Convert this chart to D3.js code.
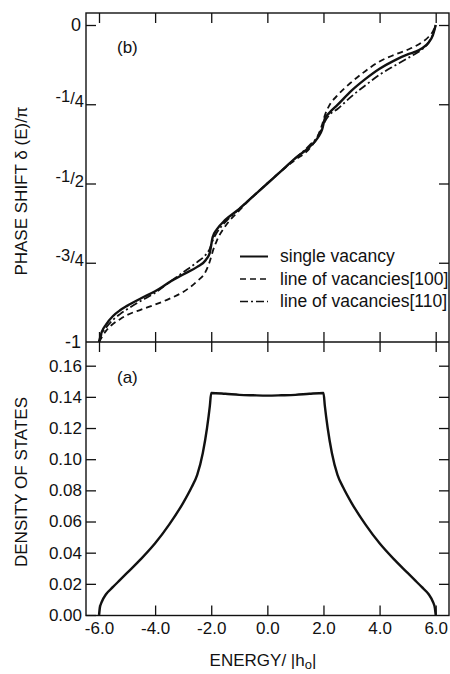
<!DOCTYPE html>
<html>
<head>
<meta charset="utf-8">
<script src="https://cdn.jsdelivr.net/npm/d3@7"></script>
<style>
  body { margin: 0; background: #fff; }
  text { font-family: "Liberation Sans", Arial, sans-serif; fill: #111; }
</style>
</head>
<body>
<div id="chart"></div>
<script>
// energy in units of |h0|
const dosEnergy = [-6, -5.97, -5.9, -5.75, -5.5, -5.25, -5, -4.5, -4, -3.5, -3, -2.7, -2.5, -2.3, -2.15, -2.05, -2,
  -1.5, -1, -0.5, 0, 0.5, 1, 1.5, 2, 2.05, 2.15, 2.3, 2.5, 2.7, 3, 3.5, 4, 4.5, 5, 5.25, 5.5, 5.75, 5.9, 5.97, 6];
const dosValues = [0, 0.0045, 0.0085, 0.0133, 0.018, 0.0225, 0.027, 0.036, 0.046, 0.058, 0.072, 0.082, 0.090, 0.104, 0.12, 0.134, 0.1425,
  0.142, 0.1413, 0.141, 0.1408, 0.141, 0.1413, 0.142, 0.1425, 0.134, 0.12, 0.104, 0.090, 0.082, 0.072, 0.058, 0.046, 0.036, 0.027, 0.0225, 0.018, 0.0133, 0.0085, 0.0045, 0];

const phaseEnergy = [-6, -5.9, -5.75, -5.5, -5.25, -5, -4.5, -4, -3.5, -3, -2.5, -2.2, -2.05, -1.95, -1.8, -1.5, -1, -0.5,
  0, 0.5, 1, 1.5, 1.8, 1.95, 2.05, 2.2, 2.5, 3, 3.5, 4, 4.5, 5, 5.25, 5.5, 5.75, 5.9, 6];
// phase shift / pi
const singleVacancy = [-1, -0.968, -0.945, -0.918, -0.900, -0.886, -0.862, -0.84, -0.812, -0.787, -0.763, -0.742, -0.718, -0.67, -0.645, -0.615, -0.58, -0.54,
  -0.5, -0.46, -0.42, -0.385, -0.355, -0.33, -0.295, -0.278, -0.252, -0.207, -0.17, -0.138, -0.113, -0.093, -0.085, -0.074, -0.055, -0.032, 0];
const line100 = [-1, -0.985, -0.965, -0.943, -0.928, -0.915, -0.898, -0.882, -0.864, -0.842, -0.808, -0.778, -0.745, -0.715, -0.68, -0.635, -0.585, -0.54,
  -0.5, -0.46, -0.425, -0.39, -0.35, -0.315, -0.285, -0.255, -0.222, -0.18, -0.145, -0.115, -0.095, -0.078, -0.068, -0.055, -0.037, -0.02, 0];
const line110 = [-1, -0.975, -0.955, -0.93, -0.912, -0.897, -0.87, -0.845, -0.812, -0.78, -0.748, -0.725, -0.705, -0.68, -0.655, -0.622, -0.58, -0.54,
  -0.5, -0.46, -0.42, -0.38, -0.35, -0.325, -0.305, -0.285, -0.265, -0.225, -0.19, -0.157, -0.13, -0.105, -0.092, -0.078, -0.055, -0.03, 0];

const energyTicks = [-6, -4, -2, 0, 2, 4, 6];
const energyLabels = ["-6.0", "-4.0", "-2.0", "0.0", "2.0", "4.0", "6.0"];
const phaseTicks = [0, -0.25, -0.5, -0.75, -1];
const phaseLabels = [["0"], ["-1", "4"], ["-1", "2"], ["-3", "4"], ["-1"]];
const dosTicks = [0, 0.02, 0.04, 0.06, 0.08, 0.10, 0.12, 0.14, 0.16];
const legendNames = ["single vacancy", "line of vacancies[100]", "line of vacancies[110]"];
const legendDash = [null, "6,4", "8,3,2,3"];

const width = 450, height = 674;
const frameL = 86, frameR = 449, frameT = 13, frameM = 342, frameB = 615.5;

const svg = d3.select("#chart").append("svg")
  .attr("width", width).attr("height", height);

const x = d3.scaleLinear().domain([-6, 6]).range([99, 435.7]);
const yPhase = d3.scaleLinear().domain([-1, 0]).range([frameM, 25]);
const yDos = d3.scaleLinear().domain([0, 0.16]).range([615, 365.7]);

const noDomain = g => g.select(".domain").remove();

// frame
svg.append("rect")
  .attr("x", frameL).attr("y", frameT)
  .attr("width", frameR - frameL).attr("height", frameB - frameT)
  .attr("fill", "none").attr("stroke", "#111").attr("stroke-width", 1.4);
svg.append("line")
  .attr("x1", frameL).attr("x2", frameR).attr("y1", frameM).attr("y2", frameM)
  .attr("stroke", "#111").attr("stroke-width", 1.4);

// energy ticks: top, middle (both sides) and bottom
svg.append("g").attr("transform", `translate(0,${frameT})`)
  .call(d3.axisTop(x).tickValues(energyTicks).tickSize(-10).tickFormat(""))
  .call(noDomain);
svg.append("g").attr("transform", `translate(0,${frameM})`)
  .call(d3.axisTop(x).tickValues(energyTicks).tickSize(10).tickFormat(""))
  .call(noDomain);
svg.append("g").attr("transform", `translate(0,${frameM})`)
  .call(d3.axisBottom(x).tickValues(energyTicks).tickSize(10).tickFormat(""))
  .call(noDomain);
svg.append("g").attr("transform", `translate(0,${frameB})`)
  .call(d3.axisBottom(x).tickValues(energyTicks).tickSize(-10).tickPadding(6)
    .tickFormat((d, i) => energyLabels[i]))
  .call(noDomain)
  .call(g => g.selectAll("text").attr("font-size", 17).attr("fill", "#111")
    .attr("font-family", "'Liberation Sans', Arial, sans-serif"));

// phase axis
svg.append("g").attr("transform", `translate(${frameL},0)`)
  .call(d3.axisLeft(yPhase).tickValues(phaseTicks.slice(0, 4)).tickSize(-10).tickFormat(""))
  .call(noDomain);
svg.append("g").attr("transform", `translate(${frameR},0)`)
  .call(d3.axisRight(yPhase).tickValues(phaseTicks.slice(0, 4)).tickSize(-10).tickFormat(""))
  .call(noDomain);

phaseTicks.forEach((v, i) => {
  const lab = phaseLabels[i];
  const t = svg.append("text")
    .attr("x", lab.length > 1 ? 84 : 81)
    .attr("y", yPhase(v))
    .attr("dy", "0.35em")
    .attr("text-anchor", "end")
    .attr("font-size", lab.length > 1 ? 16.5 : 18);
  if (lab.length === 1) {
    t.text(lab[0]);
  } else {
    t.append("tspan").attr("dy", -2).text(lab[0]);
    t.append("tspan").attr("dy", 2).text("/");
    t.append("tspan").attr("dy", 3).text(lab[1]);
  }
});

// DOS axis
svg.append("g").attr("transform", `translate(${frameL},0)`)
  .call(d3.axisLeft(yDos).tickValues(dosTicks).tickSize(-10).tickPadding(4).tickFormat(d3.format(".2f")))
  .call(noDomain)
  .call(g => g.selectAll("text").attr("font-size", 17).attr("fill", "#111")
    .attr("font-family", "'Liberation Sans', Arial, sans-serif"));
svg.append("g").attr("transform", `translate(${frameR},0)`)
  .call(d3.axisRight(yDos).tickValues(dosTicks.slice(1)).tickSize(-10).tickFormat(""))
  .call(noDomain);

svg.selectAll(".tick line").attr("stroke", "#111").attr("stroke-width", 1.3);

// curves
const phaseLine = d3.line()
  .x((d, i) => x(phaseEnergy[i]))
  .y(d => yPhase(d))
  .curve(d3.curveMonotoneX);

const series = [singleVacancy, line100, line110];
const widths = [2.4, 1.8, 1.8];
series.forEach((s, k) => {
  svg.append("path")
    .datum(s)
    .attr("d", phaseLine)
    .attr("fill", "none")
    .attr("stroke", "#111")
    .attr("stroke-width", widths[k])
    .attr("stroke-dasharray", legendDash[k]);
});

const dosLine = d3.line()
  .x((d, i) => x(dosEnergy[i]))
  .y(d => yDos(d))
  .curve(d3.curveMonotoneX);

svg.append("path")
  .datum(dosValues)
  .attr("d", dosLine)
  .attr("fill", "none")
  .attr("stroke", "#111")
  .attr("stroke-width", 2.4);

// legend
const legend = svg.append("g");
legendNames.forEach((name, k) => {
  const yy = 256.5 + k * 22.5;
  legend.append("line")
    .attr("x1", 240).attr("x2", 268).attr("y1", yy).attr("y2", yy)
    .attr("stroke", "#111").attr("stroke-width", k === 0 ? 2 : 1.6)
    .attr("stroke-dasharray", legendDash[k]);
  legend.append("text")
    .attr("x", 280).attr("y", yy).attr("dy", "0.32em")
    .attr("font-size", 17.5)
    .text(name);
});

// panel letters
svg.append("text").attr("x", 117).attr("y", 53).attr("font-size", 17).text("(b)");
svg.append("text").attr("x", 117).attr("y", 383).attr("font-size", 17).text("(a)");

// axis titles
svg.append("text")
  .attr("transform", "translate(27,191) rotate(-90)")
  .attr("text-anchor", "middle")
  .attr("font-size", 17)
  .text("PHASE SHIFT  \u03b4 (E)/\u03c0");
svg.append("text")
  .attr("transform", "translate(27,482) rotate(-90)")
  .attr("text-anchor", "middle")
  .attr("font-size", 17)
  .text("DENSITY OF STATES");

const xt = svg.append("text")
  .attr("x", 263).attr("y", 666)
  .attr("text-anchor", "middle")
  .attr("font-size", 17);
xt.append("tspan").text("ENERGY/ |h");
xt.append("tspan").attr("dy", 3).attr("font-size", 13).text("o");
xt.append("tspan").attr("dy", -3).text("|");
</script>
</body>
</html>
